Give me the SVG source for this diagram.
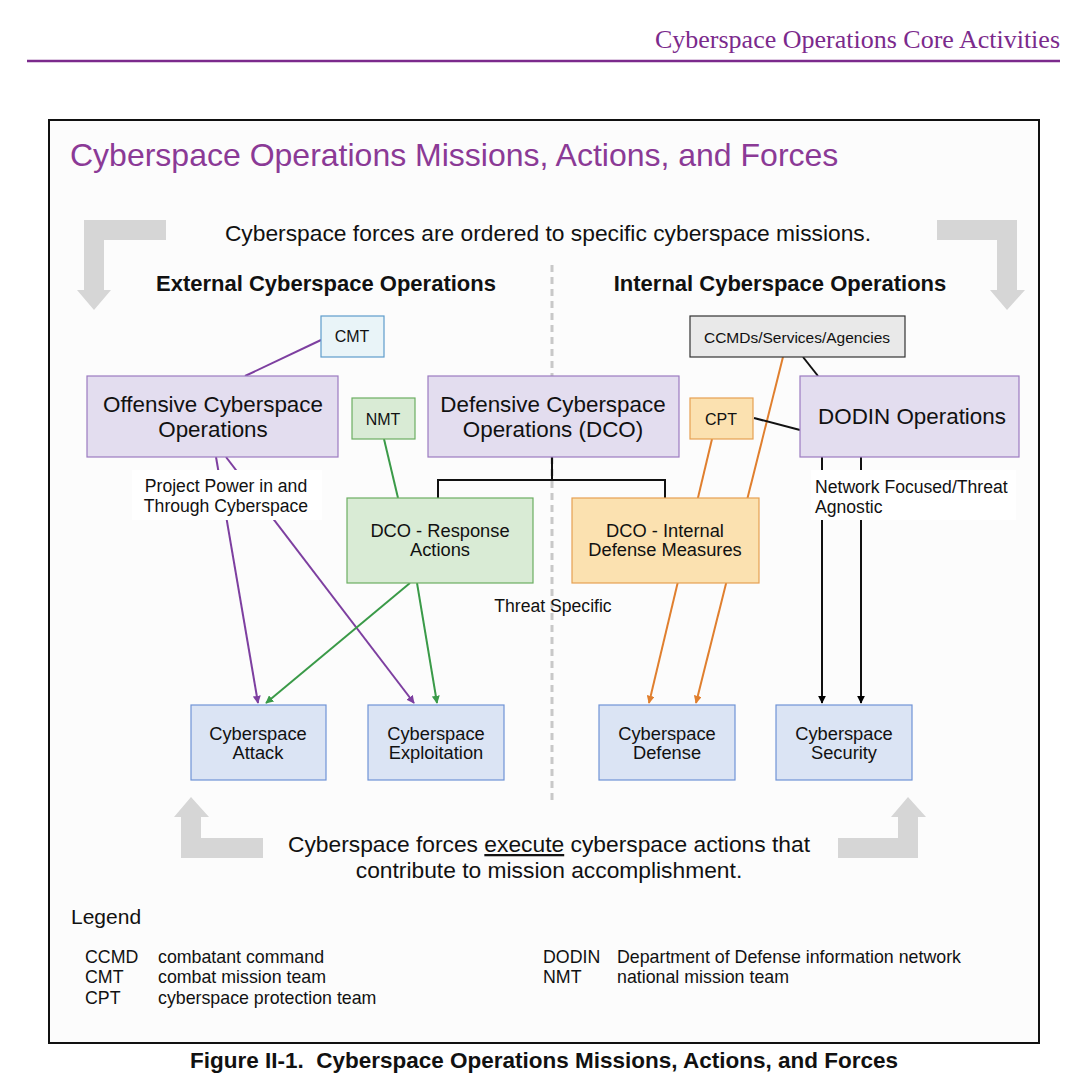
<svg xmlns="http://www.w3.org/2000/svg" width="1076" height="1087" viewBox="0 0 1076 1087">
<style>
text{font-family:"Liberation Sans",Arial,sans-serif;fill:#111}
.n{stroke-width:1.2}
.pur{fill:#e3ddef;stroke:#9b7bc0}
.grn{fill:#d9ebd5;stroke:#6cae62}
.org{fill:#fbe1b0;stroke:#e6a052}
.blu{fill:#dbe4f4;stroke:#6f93d6}
.c{text-anchor:middle}
.gar{fill:#d6d6d6}
.big{font-size:22.4px}
.bx{font-size:18.3px}
.sm{font-size:17.6px}
.tag{font-size:16px}
</style>
<defs>
<marker id="mp" viewBox="0 0 10 10" refX="9" refY="5" markerWidth="8" markerHeight="8" orient="auto" markerUnits="userSpaceOnUse"><path d="M0,0L10,5L0,10z" fill="#7d3fa0"/></marker>
<marker id="mg" viewBox="0 0 10 10" refX="9" refY="5" markerWidth="8" markerHeight="8" orient="auto" markerUnits="userSpaceOnUse"><path d="M0,0L10,5L0,10z" fill="#3a9a48"/></marker>
<marker id="mo" viewBox="0 0 10 10" refX="9" refY="5" markerWidth="8" markerHeight="8" orient="auto" markerUnits="userSpaceOnUse"><path d="M0,0L10,5L0,10z" fill="#e07f2e"/></marker>
<marker id="mk" viewBox="0 0 10 10" refX="9" refY="5" markerWidth="8" markerHeight="8" orient="auto" markerUnits="userSpaceOnUse"><path d="M0,0L10,5L0,10z" fill="#000"/></marker>
</defs>
<rect width="1076" height="1087" fill="#fff"/>
<text x="1060" y="48" text-anchor="end" style="font-family:'Liberation Serif',serif;font-size:26px;fill:#7b2a8c">Cyberspace Operations Core Activities</text>
<line x1="27" y1="61" x2="1060" y2="61" stroke="#7b2a8c" stroke-width="2.5"/>
<rect x="49" y="120" width="990" height="923" fill="#fcfcfc" stroke="#111" stroke-width="2"/>
<text x="70" y="166" style="font-size:32px;fill:#8b3a96">Cyberspace Operations Missions, Actions, and Forces</text>
<text x="548" y="241" class="c" style="font-size:22.8px">Cyberspace forces are ordered to specific cyberspace missions.</text>
<g id="gray-arrows">
<path class="gar" d="M84,220H166V240H104V290H111L94,310L77,290H84Z"/>
<path class="gar" d="M1017,220H937V240H997V290H990L1007,310L1025,290H1017Z"/>
<path class="gar" d="M181,858H263V838H201V817H209L191,797L174,817H181Z"/>
<path class="gar" d="M918,858H838V838H898V817H891L908,797L926,817H918Z"/>
</g>
<text x="326" y="291" class="c" style="font-size:22px;font-weight:bold">External Cyberspace Operations</text>
<text x="780" y="291" class="c" style="font-size:22px;font-weight:bold">Internal Cyberspace Operations</text>
<line x1="552" y1="265" x2="552" y2="800" stroke="#c8c8c8" stroke-width="3" stroke-dasharray="7,5"/>
<g id="connectors" fill="none" stroke-width="2">
<line x1="321" y1="340" x2="245" y2="376" stroke="#7d3fa0"/>
<line x1="216" y1="457" x2="258" y2="703" stroke="#7d3fa0" marker-end="url(#mp)"/>
<line x1="226" y1="457" x2="414" y2="703" stroke="#7d3fa0" marker-end="url(#mp)"/>
<line x1="384" y1="439" x2="398" y2="498" stroke="#3a9a48"/>
<line x1="410" y1="583" x2="266" y2="703" stroke="#3a9a48" marker-end="url(#mg)"/>
<line x1="417" y1="583" x2="437" y2="703" stroke="#3a9a48" marker-end="url(#mg)"/>
<path d="M552,457V480M438,498V480H665V498" stroke="#111"/>
<line x1="712" y1="439" x2="649" y2="703" stroke="#e07f2e" marker-end="url(#mo)"/>
<line x1="783" y1="357" x2="696" y2="703" stroke="#e07f2e" marker-end="url(#mo)"/>
<line x1="754" y1="418" x2="800" y2="430" stroke="#111"/>
<line x1="803" y1="357" x2="818" y2="376" stroke="#111"/>
<line x1="822" y1="457" x2="822" y2="703" stroke="#111" marker-end="url(#mk)"/>
<line x1="861" y1="457" x2="861" y2="703" stroke="#111" marker-end="url(#mk)"/>
</g>
<rect x="132" y="470" width="190" height="50" fill="#fff"/>
<text x="226" y="492" class="c sm">Project Power in and</text>
<text x="226" y="512" class="c sm">Through Cyberspace</text>
<rect x="811" y="470" width="205" height="50" fill="#fff"/>
<text x="815" y="493" class="sm">Network Focused/Threat</text>
<text x="815" y="513" class="sm">Agnostic</text>
<text x="553" y="612" class="c sm">Threat Specific</text>
<g id="cmt"><rect class="n" x="321" y="316" width="63" height="41" fill="#e9f4f8" stroke="#5e9ccc"/><text x="352" y="342" class="c tag">CMT</text></g>
<g id="oco"><rect class="n pur" x="87" y="376" width="251" height="81"/><text x="213" y="412" class="c big">Offensive Cyberspace</text><text x="213" y="437" class="c big">Operations</text></g>
<g id="nmt"><rect class="n grn" x="352" y="398" width="63" height="41"/><text x="383" y="425" class="c tag">NMT</text></g>
<g id="dco"><rect class="n pur" x="428" y="376" width="251" height="81"/><text x="553" y="412" class="c big">Defensive Cyberspace</text><text x="553" y="437" class="c big">Operations (DCO)</text></g>
<g id="cpt"><rect class="n org" x="690" y="398" width="63" height="41"/><text x="721" y="425" class="c tag">CPT</text></g>
<g id="ccmds"><rect class="n" x="690" y="316" width="215" height="41" fill="#e9e9e9" stroke="#333"/><text x="797" y="343" class="c" style="font-size:15.5px">CCMDs/Services/Agencies</text></g>
<g id="dodin"><rect class="n pur" x="800" y="376" width="219" height="81"/><text x="912" y="424" class="c big">DODIN Operations</text></g>
<g id="dco-ra"><rect class="n grn" x="347" y="498" width="186" height="85"/><text x="440" y="537" class="c bx">DCO - Response</text><text x="440" y="556" class="c bx">Actions</text></g>
<g id="dco-idm"><rect class="n org" x="572" y="498" width="187" height="85"/><text x="665" y="537" class="c bx">DCO - Internal</text><text x="665" y="556" class="c bx">Defense Measures</text></g>
<g id="attack"><rect class="n blu" x="191" y="705" width="135" height="75"/><text x="258" y="740" class="c bx">Cyberspace</text><text x="258" y="759" class="c bx">Attack</text></g>
<g id="exploit"><rect class="n blu" x="368" y="705" width="136" height="75"/><text x="436" y="740" class="c bx">Cyberspace</text><text x="436" y="759" class="c bx">Exploitation</text></g>
<g id="defense"><rect class="n blu" x="599" y="705" width="136" height="75"/><text x="667" y="740" class="c bx">Cyberspace</text><text x="667" y="759" class="c bx">Defense</text></g>
<g id="security"><rect class="n blu" x="776" y="705" width="136" height="75"/><text x="844" y="740" class="c bx">Cyberspace</text><text x="844" y="759" class="c bx">Security</text></g>
<text x="549" y="852" class="c" style="font-size:22.8px">Cyberspace forces <tspan text-decoration="underline">execute</tspan> cyberspace actions that</text>
<text x="549" y="878" class="c" style="font-size:22.8px">contribute to mission accomplishment.</text>
<text x="71" y="924" style="font-size:21px">Legend</text>
<g style="font-size:17.8px">
<text x="85" y="963">CCMD</text><text x="158" y="963">combatant command</text>
<text x="85" y="983">CMT</text><text x="158" y="983">combat mission team</text>
<text x="85" y="1004">CPT</text><text x="158" y="1004">cyberspace protection team</text>
<text x="543" y="963">DODIN</text><text x="617" y="963">Department of Defense information network</text>
<text x="543" y="983">NMT</text><text x="617" y="983">national mission team</text>
</g>
<text x="544" y="1068" class="c" style="font-size:22.5px;font-weight:bold" xml:space="preserve">Figure II-1.  Cyberspace Operations Missions, Actions, and Forces</text>
</svg>
